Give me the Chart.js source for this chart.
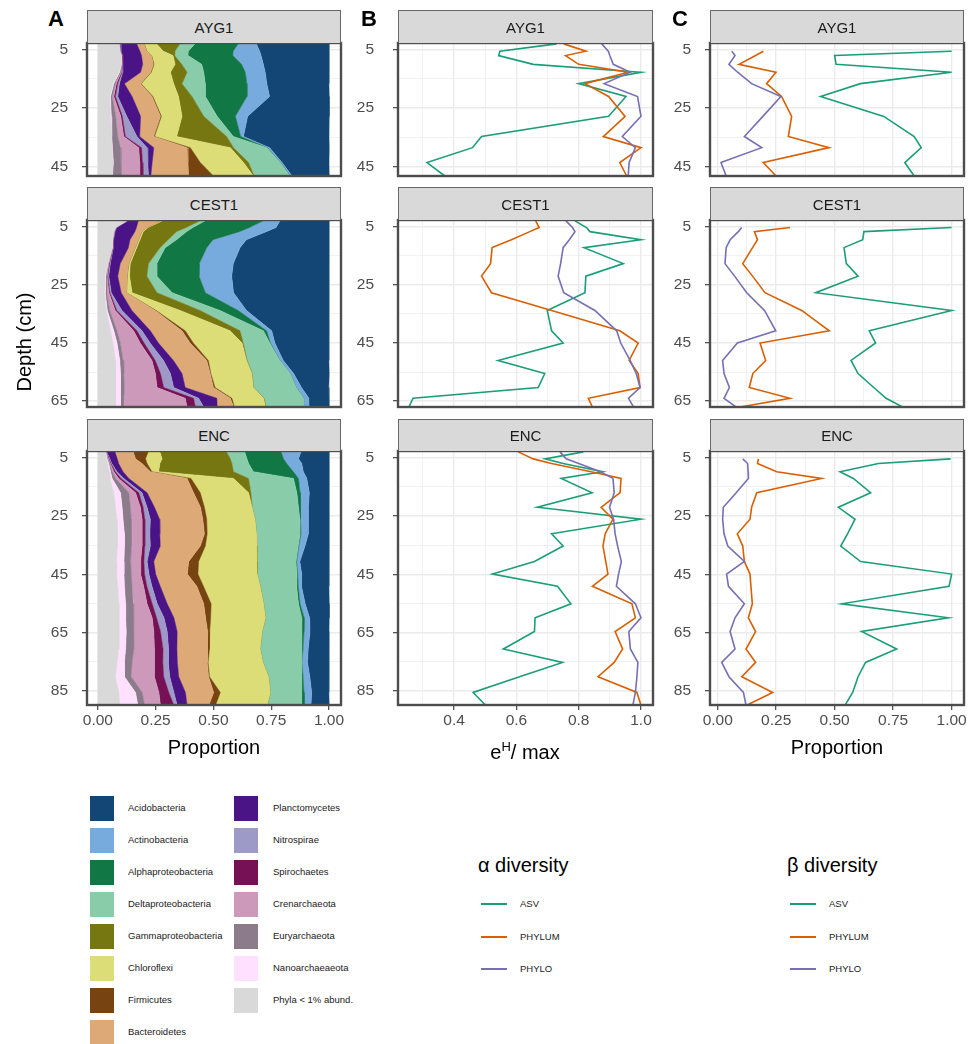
<!DOCTYPE html>
<html lang="en">
<head>
<meta charset="UTF-8">
<title>Depth profiles - composition and diversity</title>
<script src="https://cdn.jsdelivr.net/npm/chart.js"></script>
<style>
  body { margin: 0; background: #fff; font-family: "Liberation Sans", Arial, Helvetica, sans-serif; }
  #page { position: relative; width: 969px; height: 1044px; overflow: hidden; background: #fff; }
  #page canvas { position: absolute; }
  .strip { position: absolute; box-sizing: border-box; background: #d9d9d9; border: 1px solid #666; border-bottom: none;
           font-size: 15px; color: #1a1a1a; text-align: center; }
  .tag { position: absolute; font-weight: bold; font-size: 22px; line-height: 22px; color: #000; }
  .axt { position: absolute; font-size: 20px; line-height: 20px; color: #000; text-align: center; white-space: nowrap; }
  .axt sup { font-size: 13px; }
  .sw { position: absolute; width: 24px; height: 25px; }
  .lab { position: absolute; font-size: 9.5px; line-height: 12px; color: #1a1a1a; white-space: nowrap; }
  .ln { position: absolute; width: 26px; height: 2px; }
  .ltitle { position: absolute; font-size: 20px; line-height: 24px; color: #000; white-space: nowrap; }
</style>
</head>
<body>
<div id="page"></div>
<script>
// ---- data ----
const phyla = ['Acidobacteria', 'Actinobacteria', 'Alphaproteobacteria', 'Deltaproteobacteria',
  'Gammaproteobacteria', 'Chloroflexi', 'Firmicutes', 'Bacteroidetes', 'Planctomycetes',
  'Nitrospirae', 'Spirochaetes', 'Crenarchaeota', 'Euryarchaeota', 'Nanoarchaeaeota', 'Phyla < 1% abund.'];
const phylaColors = ['#134675', '#77aadd', '#117744', '#88ccaa', '#777711', '#dddd77', '#774411',
  '#ddaa77', '#4a1486', '#9e9ac8', '#771155', '#cc99bb', '#8b7b8b', '#ffe0ff', '#d9d9d9'];
const seriesNames = ['ASV', 'PHYLUM', 'PHYLO'];
const seriesColors = ['#1b9e77', '#d95f02', '#7570b3'];

// depths (cm)
const aygDepth = [3, 5.5, 7, 10, 12.7, 16.6, 21, 27.8, 34.7, 38.5, 43.6, 48.2];
const cestDepth = [3, 5.3, 6.7, 9.5, 12.2, 17.7, 22, 27.7, 33.8, 40.8, 45, 51, 55.5, 60.3, 64, 67];
const encDepth = [3, 5.4, 7, 9.8, 12.1, 17, 22, 26.1, 31.1, 35.3, 40.6, 44.9, 49.1, 55.1, 59.9, 64.6, 70.6, 75.2, 80.1, 85.5, 89.9];
const aygBetaDepth = [5.5, 7, 10, 12.7, 16.6, 21, 27.8, 34.7, 38.5, 43.6, 48.2];
const cestBetaDepth = [5.3, 6.7, 9.5, 12.2, 17.7, 22, 27.7, 33.8, 40.8, 45, 51, 55.5, 60.3, 64, 67];
const encBetaDepth = [5.4, 7, 9.8, 12.1, 17, 22, 26.1, 31.1, 35.3, 40.6, 44.9, 49.1, 55.1, 59.9, 64.6, 70.6, 75.2, 80.1, 85.5, 89.9];

// phylum proportions, one row per phylum (same order as `phyla`)
const aygPhyla = [
  [.314, .300, .294, .283, .276, .269, .258, .353, .370, .258, .203, .161],
  [.079, .115, .122, .094, .086, .086, .098, .053, .012, .009, .006, .007],
  [.187, .194, .194, .173, .180, .180, .180, .079, .032, .003, .002, .002],
  [.065, .058, .058, .086, .072, .101, .058, .058, .029, .144, .137, .155],
  [.101, .050, .007, .029, .072, .036, .058, .094, .216, .014, .022, .003],
  [.053, .071, .092, .091, .083, .141, .111, .089, .096, .173, .187, .173],
  [.001, .001, .001, .003, .003, .003, .004, .004, .004, .014, .053, .108],
  [.032, .029, .043, .046, .043, .069, .086, .086, .060, .144, .155, .163],
  [.072, .082, .083, .086, .078, .022, .062, .060, .012, .029, .019, .010],
  [.001, .001, .001, .001, .003, .007, .010, .019, .050, .024, .023, .024],
  [.001, .001, .001, .001, .003, .006, .007, .007, .007, .012, .012, .014],
  [.001, .001, .001, .001, .003, .004, .007, .022, .026, .079, .081, .081],
  [.001, .001, .001, .003, .004, .007, .007, .019, .026, .035, .033, .037],
  [.001, .001, .001, .001, .003, .003, .003, .003, .001, .001, .001, .001],
  [.091, .095, .101, .101, .091, .066, .052, .055, .059, .062, .066, .062]
];
const cestPhyla = [
  [.212, .229, .272, .358, .384, .413, .420, .413, .357, .247, .233, .197, .154, .118, .087, .086],
  [.072, .115, .115, .144, .144, .147, .141, .122, .036, .022, .019, .014, .014, .022, .022, .022],
  [.252, .245, .230, .158, .180, .184, .183, .144, .079, .014, .003, .001, .001, .001, .001, .001],
  [.022, .029, .043, .036, .022, .036, .043, .065, .086, .101, .115, .141, .164, .184, .170, .163],
  [.163, .165, .144, .122, .101, .079, .075, .108, .086, .043, .005, .003, .002, .002, .003, .003],
  [.009, .006, .006, .006, .006, .006, .010, .024, .104, .194, .211, .165, .177, .165, .137, .134],
  [.001, .001, .001, .001, .001, .001, .001, .001, .004, .014, .014, .007, .003, .007, .007, .003],
  [.094, .043, .029, .036, .029, .036, .040, .022, .101, .137, .137, .144, .122, .122, .058, .072],
  [.046, .086, .086, .071, .065, .043, .039, .043, .043, .036, .036, .043, .050, .050, .079, .058],
  [.001, .001, .001, .001, .001, .003, .004, .006, .022, .022, .026, .036, .043, .043, .022, .036],
  [.001, .001, .001, .001, .001, .003, .003, .004, .007, .014, .017, .014, .022, .029, .036, .036],
  [.001, .001, .001, .001, .001, .003, .004, .010, .024, .072, .086, .125, .137, .141, .266, .276],
  [.001, .001, .001, .001, .001, .001, .003, .006, .010, .014, .014, .014, .014, .017, .014, .012],
  [.001, .001, .001, .001, .001, .001, .003, .003, .004, .014, .017, .019, .022, .022, .022, .022],
  [.124, .076, .069, .063, .062, .043, .030, .029, .037, .055, .066, .076, .076, .076, .076, .076]
];
const encPhyla = [
  [.121, .132, .118, .111, .096, .085, .089, .089, .089, .104, .125, .118, .118, .104, .085, .082, .089, .093, .082, .075, .079],
  [.086, .065, .065, .043, .036, .040, .036, .032, .032, .026, .014, .017, .014, .022, .023, .026, .022, .024, .029, .033, .029],
  [.158, .158, .165, .173, .022, .014, .007, .004, .004, .003, .003, .004, .007, .007, .010, .010, .007, .004, .007, .010, .010],
  [.079, .072, .072, .086, .194, .199, .200, .193, .188, .178, .168, .171, .157, .150, .157, .171, .178, .164, .142, .135, .150],
  [.288, .295, .312, .324, .065, .010, .001, .001, .001, .001, .001, .001, .001, .001, .001, .001, .001, .001, .001, .001, .001],
  [.050, .072, .055, .029, .184, .209, .206, .209, .213, .223, .252, .256, .245, .227, .237, .226, .219, .237, .255, .216, .223],
  [.065, .043, .022, .007, .017, .029, .017, .017, .012, .022, .043, .046, .029, .032, .022, .009, .009, .004, .004, .029, .029],
  [.079, .079, .101, .118, .252, .201, .199, .187, .193, .173, .151, .137, .158, .158, .137, .132, .132, .129, .129, .122, .094],
  [.036, .032, .030, .026, .022, .022, .032, .040, .043, .043, .029, .029, .036, .043, .043, .043, .036, .039, .039, .050, .043],
  [.001, .003, .003, .007, .012, .014, .017, .024, .022, .024, .014, .019, .022, .022, .032, .029, .024, .024, .026, .022, .014],
  [.001, .003, .003, .007, .010, .014, .012, .012, .012, .012, .014, .017, .014, .022, .019, .029, .037, .037, .040, .043, .058],
  [.001, .003, .003, .007, .014, .029, .043, .047, .046, .047, .043, .040, .050, .060, .079, .086, .092, .096, .101, .072, .069],
  [.001, .003, .004, .007, .014, .036, .036, .035, .030, .029, .029, .032, .033, .033, .036, .033, .033, .033, .029, .029, .029],
  [.001, .003, .004, .006, .010, .029, .029, .026, .029, .032, .032, .032, .029, .029, .029, .032, .029, .032, .039, .072, .078],
  [.033, .037, .043, .049, .052, .069, .076, .083, .086, .083, .081, .081, .086, .091, .091, .091, .091, .083, .076, .091, .095]
];

// alpha diversity (e^H / max)
const aygAlphaAsv = [0.729, 0.547, 0.543, 0.654, 1.0, 0.80, 0.952, 0.896, 0.488, 0.459, 0.313, 0.370];
const aygAlphaPhylum = [0.752, 0.823, 0.758, 0.80, 0.959, 0.82, 0.896, 0.949, 0.879, 1.0, 0.932, 0.954];
const aygAlphaPhylo = [0.874, 0.895, 0.90, 0.911, 0.965, 0.882, 0.989, 1.0, 0.94, 0.982, 0.962, 0.959];
const cestAlphaAsv = [0.788, 0.825, 0.836, 1.0, 0.817, 0.943, 0.823, 0.82, 0.699, 0.713, 0.75, 0.541, 0.691, 0.67, 0.268, 0.255];
const cestAlphaPhylum = [0.662, 0.673, 0.643, 0.584, 0.522, 0.517, 0.488, 0.52, 0.713, 0.932, 0.991, 0.962, 0.991, 0.997, 0.831, 0.844];
const cestAlphaPhylo = [0.759, 0.78, 0.788, 0.77, 0.75, 0.742, 0.734, 0.752, 0.852, 0.922, 0.935, 0.965, 0.985, 0.997, 0.96, 0.976];
const encAlphaAsv = [0.815, 0.692, 0.75, 0.877, 0.744, 0.843, 0.667, 1.0, 0.713, 0.75, 0.658, 0.523, 0.732, 0.775, 0.66, 0.658, 0.558, 0.748, 0.61, 0.461, 0.501];
const encAlphaPhylum = [0.606, 0.654, 0.713, 0.84, 0.936, 0.933, 0.872, 0.91, 0.885, 0.878, 0.887, 0.894, 0.844, 0.971, 0.982, 0.917, 0.941, 0.914, 0.862, 0.987, 1.0];
const encAlphaPhylo = [0.74, 0.76, 0.80, 0.87, 0.91, 0.914, 0.899, 0.912, 0.917, 0.925, 0.937, 0.928, 0.921, 0.982, 1.0, 0.961, 0.966, 0.99, 0.987, 0.982, 0.974];

// beta diversity (proportion)
const aygBetaAsv = [1.0, 0.50, 0.506, 1.0, 0.61, 0.44, 0.71, 0.84, 0.87, 0.80, 0.84];
const aygBetaPhylum = [0.195, 0.162, 0.091, 0.249, 0.209, 0.273, 0.316, 0.302, 0.476, 0.195, 0.249];
const aygBetaPhylo = [0.06, 0.074, 0.048, 0.085, 0.145, 0.27, 0.193, 0.114, 0.188, 0.014, 0.036];
const cestBetaAsv = [1.0, 0.625, 0.62, 0.54, 0.55, 0.60, 0.419, 1.0, 0.648, 0.675, 0.57, 0.60, 0.667, 0.72, 0.79];
const cestBetaPhylum = [0.309, 0.157, 0.17, 0.149, 0.107, 0.149, 0.202, 0.359, 0.477, 0.181, 0.205, 0.15, 0.135, 0.309, 0.095];
const cestBetaPhylo = [0.103, 0.088, 0.053, 0.036, 0.031, 0.072, 0.124, 0.20, 0.248, 0.084, 0.021, 0.027, 0.05, 0.027, 0.078];
const encBetaAsv = [0.996, 0.687, 0.523, 0.58, 0.654, 0.516, 0.587, 0.555, 0.526, 0.611, 1.0, 0.989, 0.53, 0.986, 0.615, 0.765, 0.632, 0.60, 0.577, 0.544];
const encBetaPhylum = [0.174, 0.17, 0.252, 0.444, 0.167, 0.145, 0.138, 0.084, 0.107, 0.114, 0.138, 0.142, 0.148, 0.131, 0.162, 0.121, 0.162, 0.103, 0.235, 0.124];
const encBetaPhylo = [0.107, 0.128, 0.13, 0.131, 0.079, 0.024, 0.021, 0.027, 0.043, 0.114, 0.038, 0.046, 0.114, 0.074, 0.053, 0.074, 0.017, 0.048, 0.11, 0.121];

// axis ticks
const aygDepthTicks = [5, 15, 25, 35, 45];
const cestDepthTicks = [5, 15, 25, 35, 45, 55, 65];
const encDepthTicks = [5, 15, 25, 35, 45, 55, 65, 75, 85];
const propTicks = [0, 0.125, 0.25, 0.375, 0.5, 0.625, 0.75, 0.875, 1];
const propLabels = [0, 0.25, 0.5, 0.75, 1];
const evenTicks = [0.3, 0.4, 0.5, 0.6, 0.7, 0.8, 0.9, 1.0];
const evenLabels = [0.4, 0.6, 0.8, 1.0];

// ---- layout ----
Chart.defaults.font.family = '"Liberation Sans", Arial, Helvetica, sans-serif';
const page = document.getElementById('page');

const cores = [
  { name: 'AYG1', depth: aygDepth, comp: aygPhyla, alpha: [aygAlphaAsv, aygAlphaPhylum, aygAlphaPhylo],
    betaDepth: aygBetaDepth, beta: [aygBetaAsv, aygBetaPhylum, aygBetaPhylo], ticks: aygDepthTicks,
    stripTop: 10, top: 43, bottom: 176, ymin: 2.7, ymax: 48.2 },
  { name: 'CEST1', depth: cestDepth, comp: cestPhyla, alpha: [cestAlphaAsv, cestAlphaPhylum, cestAlphaPhylo],
    betaDepth: cestBetaDepth, beta: [cestBetaAsv, cestBetaPhylum, cestBetaPhylo], ticks: cestDepthTicks,
    stripTop: 187, top: 220, bottom: 407, ymin: 2.7, ymax: 67.0 },
  { name: 'ENC', depth: encDepth, comp: encPhyla, alpha: [encAlphaAsv, encAlphaPhylum, encAlphaPhylo],
    betaDepth: encBetaDepth, beta: [encBetaAsv, encBetaPhylum, encBetaPhylo], ticks: encDepthTicks,
    stripTop: 419, top: 451, bottom: 705, ymin: 2.7, ymax: 89.8 }
];

const columns = [
  { l: 87, r: 341, xmin: -0.047, xmax: 1.052, ticks: propTicks, labels: propLabels, dec: 2, ypad: 14 },
  { l: 398, r: 653, xmin: 0.2198, xmax: 1.0386, ticks: evenTicks, labels: evenLabels, dec: 1, ypad: 19 },
  { l: 710, r: 964, xmin: -0.033, xmax: 1.053, ticks: propTicks, labels: propLabels, dec: 2, ypad: 14 }
];

const isIn = (list, v) => list.some(m => Math.abs(m - v) < 1e-9);

const frame = {
  id: 'frame',
  afterDraw(chart) {
    const a = chart.chartArea, c = chart.ctx;
    c.save();
    c.strokeStyle = '#4d4d4d';
    c.lineWidth = 2.4;
    c.strokeRect(a.left, a.top, a.right - a.left, a.bottom - a.top);
    c.restore();
  }
};

function areaSets(core) {
  const out = [];
  for (let k = phyla.length - 1; k >= 0; k--) {
    out.push({
      label: phyla[k],
      data: core.depth.map((d, i) => ({ y: d, x: core.comp[k][i] })),
      backgroundColor: phylaColors[k],
      borderColor: phylaColors[k],
      borderWidth: 0.5,
      fill: out.length === 0 ? 'origin' : '-1',
      pointRadius: 0,
      tension: 0
    });
  }
  return out;
}

function lineSets(depth, series) {
  return series.map((vals, s) => ({
    label: seriesNames[s],
    data: depth.map((d, i) => ({ y: d, x: vals[i] })),
    borderColor: seriesColors[s],
    borderWidth: 1.6,
    pointRadius: 0,
    fill: false,
    tension: 0,
    order: 2 - s
  }));
}

function panel(col, core, datasets, stacked, showX) {
  const ML = 80, MR = 16, MT = 12, MB = showX ? 34 : 12;
  const cv = document.createElement('canvas');
  const w = col.r - col.l + ML + MR, h = core.bottom - core.top + MT + MB;
  cv.width = w; cv.height = h;
  cv.style.left = (col.l - ML) + 'px';
  cv.style.top = (core.top - MT) + 'px';
  page.appendChild(cv);

  const yMajor = core.ticks.filter((v, i) => i % 2 === 0);
  new Chart(cv, {
    type: 'line',
    data: { datasets },
    options: {
      indexAxis: 'y',
      responsive: false,
      animation: false,
      events: [],
      layout: { padding: { top: MT, right: MR, left: 0, bottom: 0 } },
      plugins: { legend: { display: false }, tooltip: { enabled: false } },
      scales: {
        x: {
          type: 'linear', min: col.xmin, max: col.xmax, stacked: stacked,
          afterBuildTicks: s => { s.ticks = col.ticks.map(v => ({ value: v })); },
          afterFit: s => { s.height = MB; s.paddingLeft = 0; s.paddingRight = 0; },
          ticks: {
            display: showX, autoSkip: false, maxRotation: 0, padding: 1,
            color: '#4d4d4d', font: { size: 15.5 },
            callback: v => isIn(col.labels, v) ? v.toFixed(col.dec) : ''
          },
          grid: {
            color: '#ebebeb', drawTicks: showX, tickLength: 5,
            lineWidth: c => isIn(col.labels, c.tick.value) ? 1.4 : 0.7,
            tickColor: c => isIn(col.labels, c.tick.value) ? '#333' : 'rgba(0,0,0,0)',
            tickWidth: 1.1
          },
          border: { display: false }
        },
        y: {
          type: 'linear', reverse: true, min: core.ymin, max: core.ymax,
          afterBuildTicks: s => { s.ticks = core.ticks.map(v => ({ value: v })); },
          afterFit: s => { s.width = ML; s.paddingTop = 0; s.paddingBottom = 0; },
          ticks: {
            autoSkip: false, padding: col.ypad, color: '#4d4d4d', font: { size: 15.5 },
            callback: v => isIn(yMajor, v) ? String(v) : ''
          },
          grid: {
            color: '#ebebeb', tickLength: 5,
            lineWidth: c => isIn(yMajor, c.tick.value) ? 1.4 : 0.7,
            tickColor: c => isIn(yMajor, c.tick.value) ? '#333' : 'rgba(0,0,0,0)',
            tickWidth: 1.1
          },
          border: { display: false }
        }
      }
    },
    plugins: [frame]
  });
}

function addDiv(cls, html, css) {
  const d = document.createElement('div');
  d.className = cls;
  d.innerHTML = html;
  Object.assign(d.style, css);
  page.appendChild(d);
  return d;
}

cores.forEach((core, r) => {
  const last = r === cores.length - 1;
  panel(columns[0], core, areaSets(core), true, last);
  panel(columns[1], core, lineSets(core.depth, core.alpha), false, last);
  panel(columns[2], core, lineSets(core.betaDepth, core.beta), false, last);
  columns.forEach(col => {
    addDiv('strip', core.name, {
      left: col.l + 'px', top: core.stripTop + 'px', width: (col.r - col.l) + 'px',
      height: (core.top - core.stripTop) + 'px', lineHeight: (core.top - core.stripTop) + 'px'
    });
  });
});

// panel tags and axis titles
addDiv('tag', 'A', { left: '48px', top: '8px' });
addDiv('tag', 'B', { left: '361px', top: '8px' });
addDiv('tag', 'C', { left: '672px', top: '8px' });
addDiv('axt', 'Proportion', { left: '114px', width: '200px', top: '737px' });
addDiv('axt', 'e<sup>H</sup>/ max', { left: '425px', width: '200px', top: '737px' });
addDiv('axt', 'Proportion', { left: '737px', width: '200px', top: '737px' });
addDiv('axt', 'Depth (cm)', { left: '-36px', width: '120px', top: '332px', transform: 'rotate(-90deg)' });

// phylum legend
phyla.forEach((name, k) => {
  const colIdx = k < 8 ? 0 : 1;
  const row = k < 8 ? k : k - 8;
  const top = 796 + row * 32;
  const sx = colIdx === 0 ? 90 : 234;
  const tx = colIdx === 0 ? 128 : 273;
  addDiv('sw', '', { left: sx + 'px', top: top + 'px', background: phylaColors[k] });
  addDiv('lab', name, { left: tx + 'px', top: (top + 6) + 'px' });
});

// diversity legends
[{ title: '\u03b1 diversity', x: 478 }, { title: '\u03b2 diversity', x: 787 }].forEach(g => {
  addDiv('ltitle', g.title, { left: g.x + 'px', top: '853px' });
  seriesNames.forEach((n, s) => {
    const y = 904 + s * 32.5;
    addDiv('ln', '', { left: (g.x + 3) + 'px', top: (y - 1) + 'px', background: seriesColors[s] });
    addDiv('lab', n, { left: (g.x + 42) + 'px', top: (y - 6) + 'px' });
  });
});
</script>
</body>
</html>
